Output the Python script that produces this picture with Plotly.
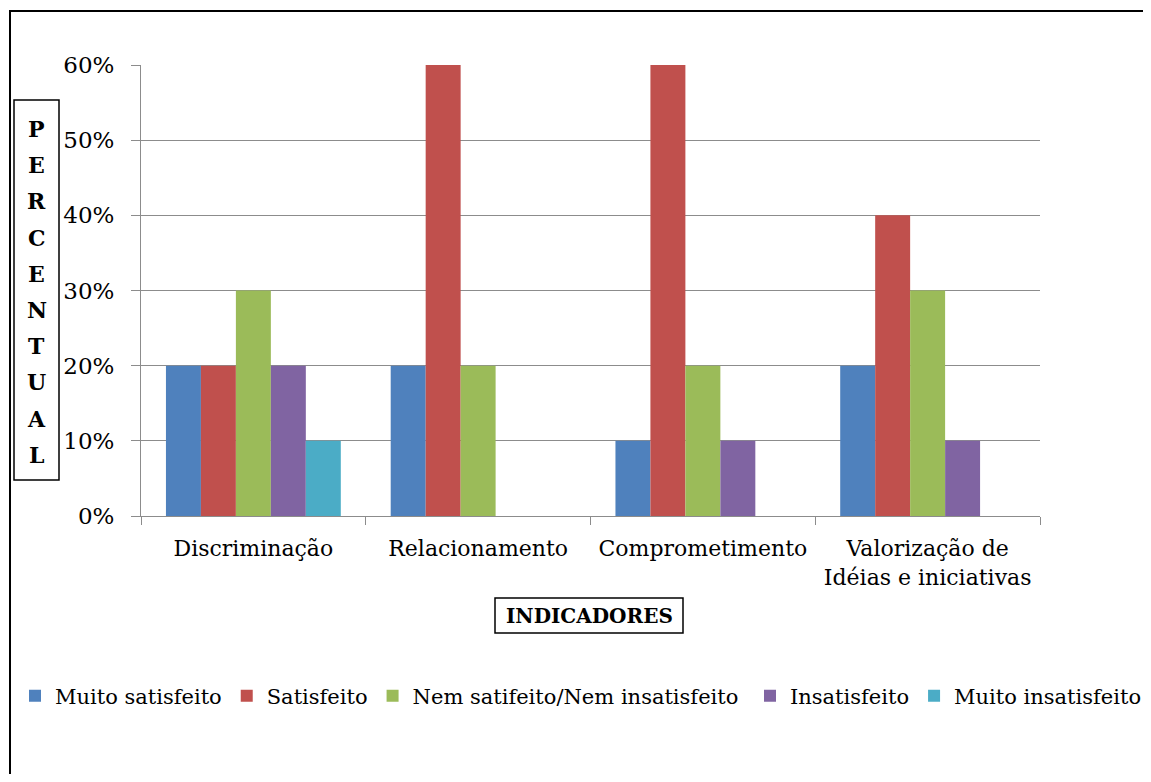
import plotly.graph_objects as go

# ---------------- data ----------------
categories = ["Discriminação", "Relacionamento", "Comprometimento",
              "Valorização de<br>Idéias e iniciativas"]
series_names = ["Muito satisfeito", "Satisfeito", "Nem satifeito/Nem insatisfeito",
                "Insatisfeito", "Muito insatisfeito"]
muito_satisfeito = [0.20, 0.20, 0.10, 0.20]
satisfeito = [0.20, 0.60, 0.60, 0.40]
nem_satisfeito = [0.30, 0.20, 0.20, 0.30]
insatisfeito = [0.20, 0.00, 0.10, 0.10]
muito_insatisfeito = [0.10, 0.00, 0.00, 0.00]
y_tick_values = [0, 0.1, 0.2, 0.3, 0.4, 0.5, 0.6]
y_tick_labels = ["0%", "10%", "20%", "30%", "40%", "50%", "60%"]
y_title_letters = list("PERCENTUAL")
x_title = "INDICADORES"

# ---------------- style ----------------
series_values = [muito_satisfeito, satisfeito, nem_satisfeito, insatisfeito, muito_insatisfeito]
colors = ["#4F81BD", "#C0504D", "#9BBB59", "#8064A2", "#4BACC6"]
legend_ids = ["legend", "legend", "legend", "legend2", "legend2"]
FONT = "DejaVu Serif"
GRID = "#8C8C8C"

# page body has an 8px margin: figure sized so the page is exactly 1151x782
OFF = 8
W, H = 1151 - 2 * OFF, 782 - 2 * OFF
L = 141 - OFF
T = 65 - OFF
PLOT_RIGHT = 1040 - OFF
PLOT_BOTTOM = 516 - OFF
R = W - PLOT_RIGHT
B = H - PLOT_BOTTOM
PW, PH = PLOT_RIGHT - L, PLOT_BOTTOM - T


def px_x(x):  # page pixel -> paper
    return (x - OFF - L) / PW


def px_y(y):  # page pixel -> paper
    return (PLOT_BOTTOM - (y - OFF)) / PH


fig = go.Figure()
for name, vals, col, lg in zip(series_names, series_values, colors, legend_ids):
    fig.add_trace(go.Bar(x=categories, y=vals, name=name, marker_color=col,
                         marker_line_width=0, legend=lg))

shapes = [
    # outer frame
    dict(type="rect", xref="paper", yref="paper",
         x0=px_x(10), x1=px_x(1180), y0=px_y(11), y1=px_y(800),
         line=dict(color="black", width=2), fillcolor="rgba(0,0,0,0)"),
    # y title box
    dict(type="rect", xref="paper", yref="paper",
         x0=px_x(14), x1=px_x(59), y0=px_y(100), y1=px_y(480),
         line=dict(color="black", width=1.5), fillcolor="rgba(0,0,0,0)"),
    # x title box
    dict(type="rect", xref="paper", yref="paper",
         x0=px_x(495), x1=px_x(683), y0=px_y(598), y1=px_y(633),
         line=dict(color="black", width=1.5), fillcolor="rgba(0,0,0,0)"),
]

annotations = []
for i, ch in enumerate(y_title_letters):
    annotations.append(dict(text="<b>%s</b>" % ch, xref="paper", yref="paper",
                            x=px_x(36.5), y=px_y(129 + i * 36.2),
                            xanchor="center", yanchor="middle", showarrow=False,
                            font=dict(family=FONT, size=22, color="black")))
annotations.append(dict(text="<b>%s</b>" % x_title, xref="paper", yref="paper",
                        x=px_x(589), y=px_y(615.5), xanchor="center", yanchor="middle",
                        showarrow=False, font=dict(family=FONT, size=20, color="black")))

legend_common = dict(orientation="h", yanchor="middle", xanchor="left",
                     font=dict(family=FONT, size=21, color="black"),
                     bgcolor="rgba(0,0,0,0)", traceorder="normal")

fig.update_layout(
    width=W, height=H,
    margin=dict(l=L, r=R, t=T, b=B, autoexpand=False),
    paper_bgcolor="white", plot_bgcolor="white",
    font=dict(family=FONT, size=22, color="black"),
    barmode="group", bargap=0.222, bargroupgap=0,
    showlegend=True,
    legend=dict(x=px_x(15), y=px_y(696), **legend_common),
    legend2=dict(x=px_x(750), y=px_y(696), **legend_common),
    shapes=shapes, annotations=annotations,
    xaxis=dict(showline=True, linecolor=GRID, linewidth=1, ticks="outside",
               tickson="boundaries", ticklen=8, tickcolor=GRID, showgrid=False,
               tickfont=dict(family=FONT, size=22, color="black"),
               ticklabelstandoff=13),
    yaxis=dict(range=[0, 0.6], tickvals=y_tick_values, ticktext=y_tick_labels,
               showline=True, linecolor=GRID, linewidth=1, ticks="outside",
               ticklen=9, tickcolor=GRID, showgrid=True, gridcolor=GRID, gridwidth=1,
               zeroline=False, tickfont=dict(family=FONT, size=23, color="black"),
               ticklabelstandoff=12),
)

fig.write_html("out.html")
